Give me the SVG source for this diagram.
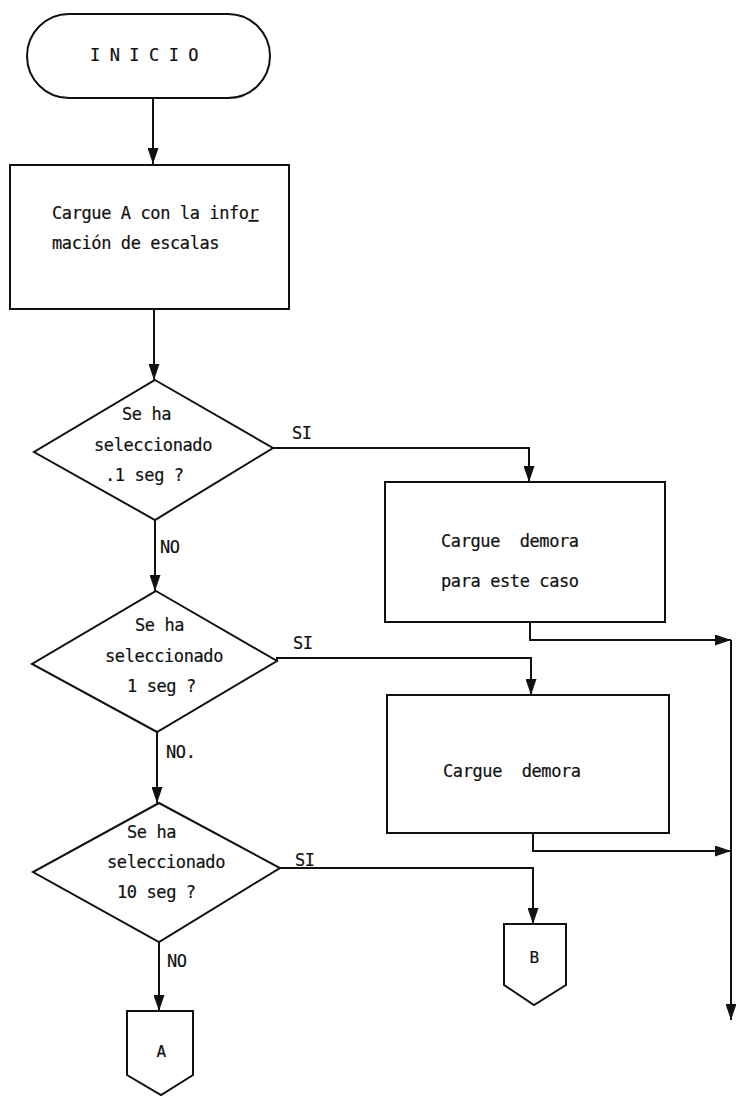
<svg xmlns="http://www.w3.org/2000/svg" width="736" height="1098" viewBox="0 0 736 1098">
  <style>
    .shape { fill: #fff; stroke: #111; stroke-width: 2; stroke-linejoin: miter; }
    .wire { fill: none; stroke: #111; stroke-width: 2; }
    text { font-family: "DejaVu Sans Mono", "Liberation Mono", monospace; font-size: 17px; letter-spacing: -0.4px; fill: #111; stroke: #111; stroke-width: 0.2; white-space: pre; }
    .lbl { font-size: 16px; }
  </style>
  <defs>
    <marker id="arrow" viewBox="0 0 16 11" refX="16" refY="5.5" markerWidth="16" markerHeight="11" markerUnits="userSpaceOnUse" orient="auto">
      <path d="M0,0 L16,5.5 L0,11 Z" fill="#111"/>
    </marker>
  </defs>

  <rect width="736" height="1098" fill="#fff"/>

  <!-- connectors -->
  <g id="connectors">
    <path class="wire" d="M153,98 V164" marker-end="url(#arrow)"/>
    <path class="wire" d="M154,309 V380" marker-end="url(#arrow)"/>
    <path class="wire" d="M273,448 H529 V482" marker-end="url(#arrow)"/>
    <path class="wire" d="M155,520 V591" marker-end="url(#arrow)"/>
    <path class="wire" d="M277,661 L277,658 H531 V695" marker-end="url(#arrow)"/>
    <path class="wire" d="M157,732 V803" marker-end="url(#arrow)"/>
    <path class="wire" d="M280,868 H533 V924" marker-end="url(#arrow)"/>
    <path class="wire" d="M159,942 V1011" marker-end="url(#arrow)"/>
    <path class="wire" d="M530,622 V640 H731" marker-end="url(#arrow)"/>
    <path class="wire" d="M533,833 V851 H731" marker-end="url(#arrow)"/>
    <path class="wire" d="M731,640 V1020" marker-end="url(#arrow)"/>
    <text x="292" y="439">SI</text>
    <text x="160" y="553">NO</text>
    <text x="293" y="649">SI</text>
    <text x="166" y="758">NO.</text>
    <text x="295" y="866">SI</text>
    <text x="167" y="967">NO</text>
  </g>

  <!-- start terminator -->
  <g id="inicio">
    <rect class="shape" x="27" y="14" width="243" height="84" rx="42" ry="42"/>
    <text x="90" y="61">I N I C I O</text>
  </g>

  <!-- load scale table -->
  <g id="cargue-a">
    <rect class="shape" x="10" y="165" width="279" height="144"/>
    <text x="52" y="219">Cargue A con la info<tspan text-decoration="underline">r</tspan></text>
    <text x="52" y="249">mación de escalas</text>
  </g>

  <!-- decision: .1 seg -->
  <g id="dec-01">
    <polygon class="shape" points="155,380 273,448 155,520 34,452"/>
    <text x="122" y="420">Se ha</text>
    <text x="94" y="451">seleccionado</text>
    <text x="105" y="481">.1 seg ?</text>
  </g>

  <!-- delay for .1 seg -->
  <g id="demora-01">
    <rect class="shape" x="385" y="482" width="280" height="140"/>
    <text x="441" y="547">Cargue  demora</text>
    <text x="441" y="587">para este caso</text>
  </g>

  <!-- decision: 1 seg -->
  <g id="dec-1">
    <polygon class="shape" points="156,591 277,661 157,732 32,664"/>
    <text x="135" y="631">Se ha</text>
    <text x="105" y="662">seleccionado</text>
    <text x="127" y="692">1 seg ?</text>
  </g>

  <!-- delay for 1 seg -->
  <g id="demora-1">
    <rect class="shape" x="387" y="695" width="282" height="138"/>
    <text x="443" y="777">Cargue  demora</text>
  </g>

  <!-- decision: 10 seg -->
  <g id="dec-10">
    <polygon class="shape" points="159,803 280,868 159,942 33,872"/>
    <text x="127" y="838">Se ha</text>
    <text x="107" y="868">seleccionado</text>
    <text x="117" y="898">10 seg ?</text>
  </g>

  <!-- off-page connector B -->
  <g id="conector-b">
    <polygon class="shape" points="504,924 566,924 566,985 534,1005 504,985"/>
    <text class="lbl" x="534" y="963" text-anchor="middle">B</text>
  </g>

  <!-- off-page connector A -->
  <g id="conector-a">
    <polygon class="shape" points="127,1011 193,1011 193,1075 161,1095 127,1075"/>
    <text class="lbl" x="161" y="1057" text-anchor="middle">A</text>
  </g>
</svg>
